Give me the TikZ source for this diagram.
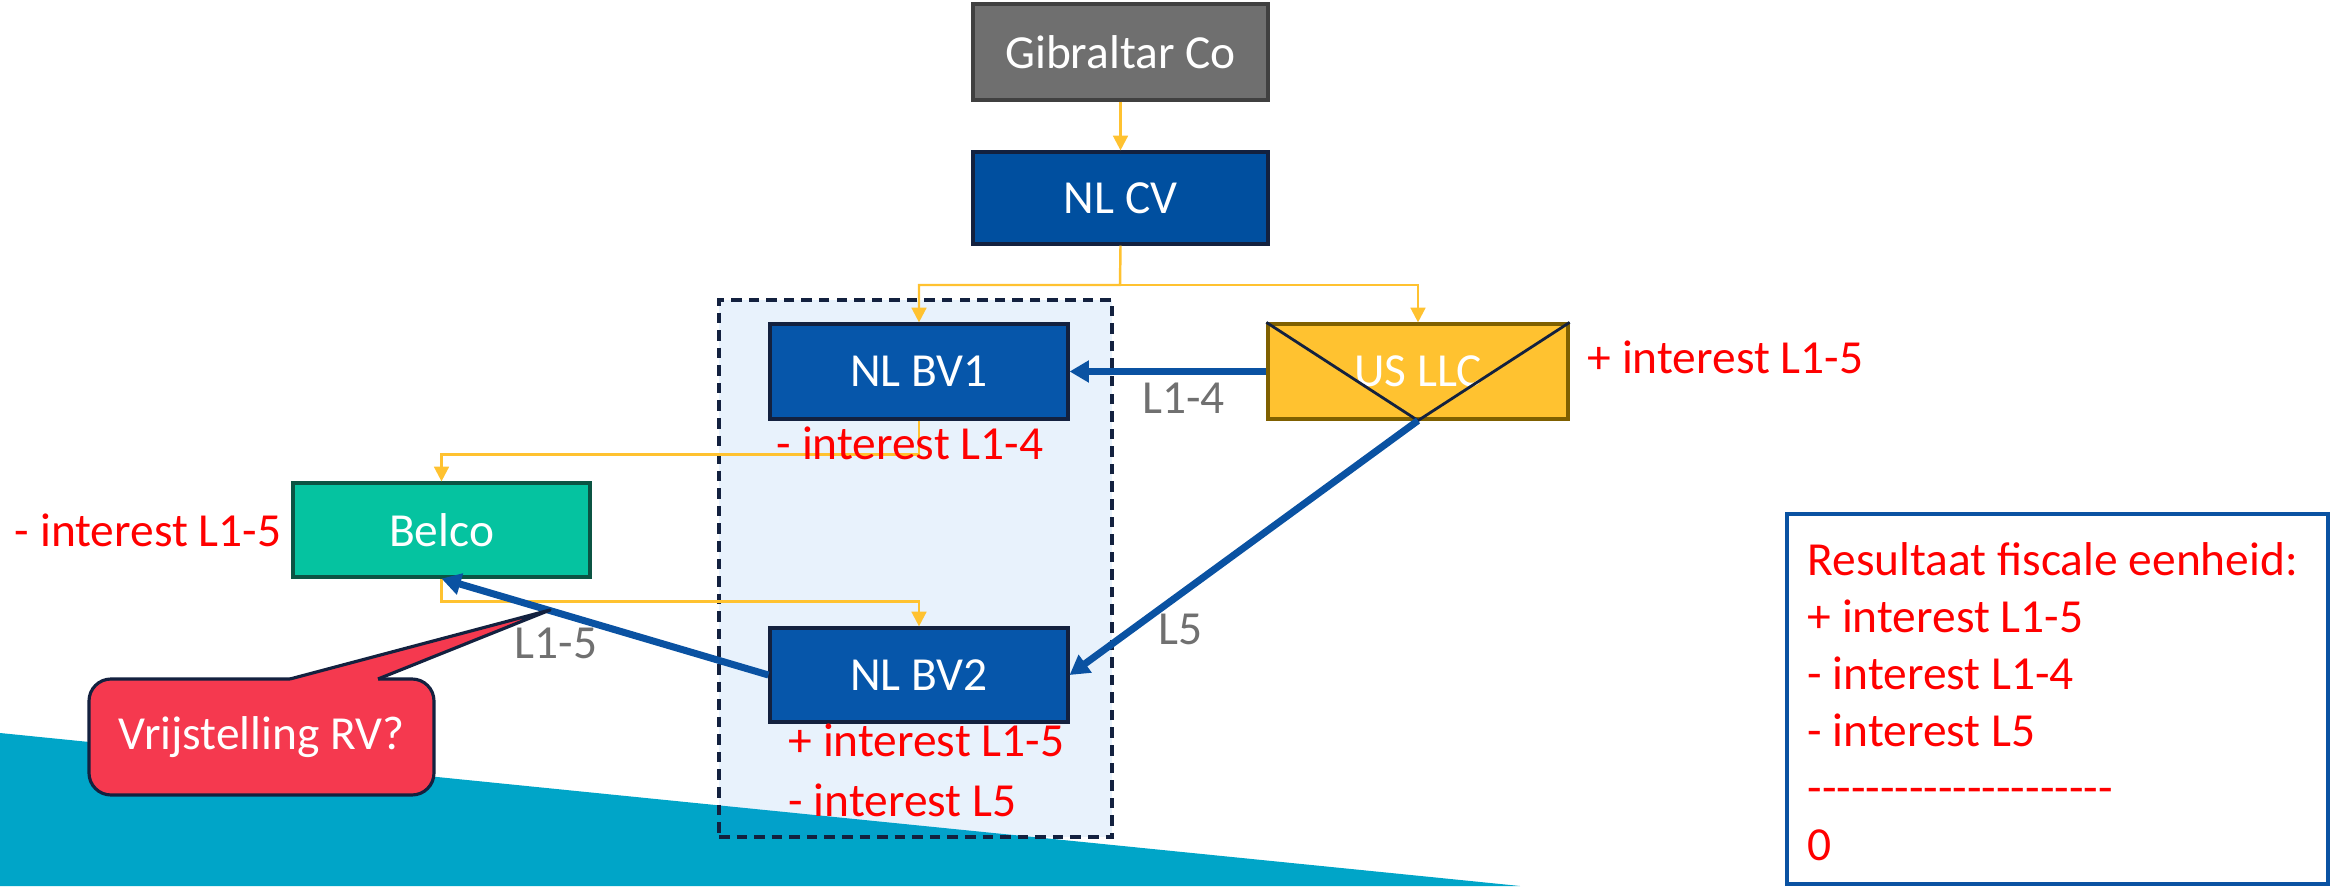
\documentclass[tikz,border=0pt]{standalone}
\usepackage{fontspec}
\setmainfont{Carlito}
\newfontfamily\plainfont{Carlito}
\usepackage{tikz}
\usetikzlibrary{fit}
\usetikzlibrary{arrows.meta}

\definecolor{nlblue}{HTML}{0656AA}
\definecolor{cvblue}{HTML}{004F9F}
\definecolor{loanblue}{HTML}{0A52A2}
\definecolor{darknavy}{HTML}{13213F}
\definecolor{gold}{HTML}{FFC230}
\definecolor{goldrim}{HTML}{7F6000}
\definecolor{gibgray}{HTML}{6F6F6F}
\definecolor{belgreen}{HTML}{05C3A0}
\definecolor{belrim}{HTML}{0B5443}
\definecolor{callred}{HTML}{F5394F}
\definecolor{seateal}{HTML}{00A5C8}
\definecolor{unitfill}{HTML}{1A7FE0}
\definecolor{loangray}{HTML}{707070}
\definecolor{amount}{HTML}{FF0000}

\begin{document}
\begin{tikzpicture}[font=\fontsize{13.5}{16.2}\selectfont,
	entity/.style={draw=darknavy, line width=0.9pt, inner sep=0pt},
	every label/.style={text=white},
	own/.style={draw=gold, line width=0.7pt, -{Triangle[length=4.2pt,width=4.2pt]}},
	loan/.style={draw=loanblue, line width=2pt, -{Triangle[length=5.5pt,width=6pt]}},
	loanlabel/.style={text=loangray},
	booked/.style={text=amount, inner sep=0pt}]

	\useasboundingbox (0,0) rectangle (23.3,8.86);
	\fill[seateal] (0,0) -- (0,1.53) -- (15.2,0) -- cycle;	% backdrop

	\node[draw=darknavy, dash pattern=on 3pt off 2pt, line width=1pt, fill=unitfill, fill opacity=0.1, fit={(7.19,0.49) (11.12,5.86)}, inner sep=0pt] (unit) {};	% fiscal unity

	\node[entity, draw=black!75, fill=gibgray, fit={(9.73,7.86) (12.68,8.82)}, label=center:Gibraltar Co] (gib) {};	% entities
	\node[entity, fill=cvblue, fit={(9.73,6.42) (12.68,7.34)}, label=center:NL CV] (cv) {};
	\node[entity, fill=nlblue, fit={(7.70,4.67) (10.68,5.62)}, label=center:NL BV1] (bv1) {};
	\node[entity, draw=goldrim, fill=gold, fit={(12.68,4.67) (15.68,5.62)}, label=center:US LLC] (llc) {};
	\node[entity, draw=belrim, fill=belgreen, fit={(2.93,3.09) (5.90,4.03)}, label=center:Belco] (belco) {};
	\node[entity, fill=nlblue, fit={(7.70,1.64) (10.68,2.58)}, label=center:NL BV2] (bv2) {};

	\draw[darknavy, line width=0.8pt] (llc.north west) -- (llc.south) -- (llc.north east);	% hybrid mark

	\coordinate (split) at (11.2,6.01);	% shareholdings
	\draw[own] (gib) -- (cv);
	\draw[own] (cv.south) -- (split) -| (bv1.north);
	\draw[own] (split) -| (llc.north);
	\draw[own] (bv1.south) -- ++(0,-0.34) -| (belco.north);
	\draw[own] (belco.south) -- ++(0,-0.23) -| (bv2.north);

	\draw[loan] (llc) -- node[loanlabel, pos=0.42, below=-1pt] {L1-4} (bv1);	% loans
	\draw[loan] (llc.south) -- node[loanlabel, pos=0.82, right=3pt] {L5} (bv2.east);
	\draw[loan] (bv2.west) -- node[loanlabel, pos=0.65, below] {L1-5} (belco.south);

	\node[booked, anchor=west] (llcplus) at (15.87,5.29) {+ interest L1-5};	% interest booked
	\node[booked] (bv1min) at (9.10,4.43) {- interest L1-4};
	\node[booked, anchor=east] (belmin) at (2.82,3.56) {- interest L1-5};
	\node[booked, anchor=west] (bv2plus) at (7.88,1.46) {+ interest L1-5};
	\node[booked, anchor=west] (bv2min) at (7.88,0.86) {- interest L5};

	\node[draw=darknavy, line width=0.9pt, fill=callred, rounded corners=0.22cm, fit={(0.89,0.91) (4.34,2.07)}, inner sep=0pt, label=center:Vrijstelling RV?] (rv) {};	% callout
	\fill[callred] (2.90,2.03) -- (2.90,2.07) -- (5.50,2.76) -- (3.78,2.07) -- (3.78,2.03) -- cycle;
	\draw[darknavy, line width=0.9pt, line join=round] (2.90,2.07) -- (5.50,2.76) -- (3.78,2.07);

	\node[draw=loanblue, line width=1pt, fit={(17.87,0.02) (23.28,3.72)}, inner sep=0pt] (result) {};	% result box
	\node[booked, anchor=west, align=left] (sum) at (18.07,1.84) {Resultaat fiscale eenheid:\\+ interest L1-5\\- interest L1-4\\- interest L5\\{\plainfont ---------------------}\\0};
\end{tikzpicture}
\end{document}
